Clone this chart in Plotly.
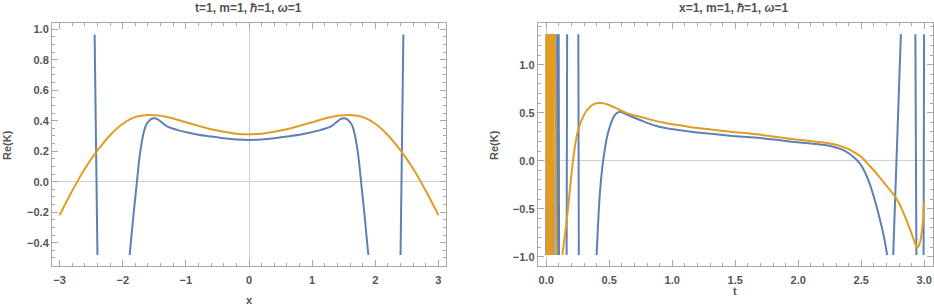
import plotly.graph_objects as go

# ---------------- data ----------------
# Left panel: Re(K) vs x  (t=1)
left_orange_x = [-3.0, -2.8, -2.6, -2.4, -2.2, -2.0, -1.8, -1.6, -1.4, -1.2, -1.0, -0.8, -0.6, -0.4, -0.2, 0.0,
                 0.2, 0.4, 0.6, 0.8, 1.0, 1.2, 1.4, 1.6, 1.8, 2.0, 2.2, 2.4, 2.6, 2.8, 3.0]
left_orange_y = [-0.22, -0.06, 0.085, 0.205, 0.305, 0.38, 0.425, 0.438, 0.432, 0.414, 0.39, 0.366, 0.344, 0.328, 0.315, 0.311,
                 0.315, 0.328, 0.344, 0.366, 0.39, 0.414, 0.432, 0.438, 0.425, 0.38, 0.305, 0.205, 0.085, -0.06, -0.22]

left_blue_x = [-2.445, -2.40, None,
               -1.89, -1.86, -1.83, -1.80, -1.77, -1.74, -1.71, -1.68, -1.65, -1.62, -1.58, -1.54, -1.50,
               -1.45, -1.40, -1.35, -1.30, -1.20, -1.10, -1.00, -0.90, -0.80, -0.60, -0.40, -0.20, 0.0,
               0.20, 0.40, 0.60, 0.80, 0.90, 1.00, 1.10, 1.20, 1.30, 1.35, 1.40, 1.45,
               1.50, 1.54, 1.58, 1.62, 1.65, 1.68, 1.71, 1.74, 1.77, 1.80, 1.83, 1.86, 1.89, None,
               2.40, 2.445]
left_blue_y = [0.965, -0.481, None,
               -0.481, -0.35, -0.22, -0.10, 0.02, 0.14, 0.23, 0.30, 0.35, 0.38, 0.40, 0.413, 0.416,
               0.41, 0.395, 0.378, 0.363, 0.347, 0.335, 0.325, 0.316, 0.308, 0.296, 0.285, 0.277, 0.274,
               0.277, 0.285, 0.296, 0.308, 0.316, 0.325, 0.335, 0.347, 0.363, 0.378, 0.395, 0.41,
               0.416, 0.413, 0.40, 0.38, 0.35, 0.30, 0.23, 0.14, 0.02, -0.10, -0.22, -0.35, -0.481, None,
               -0.481, 0.965]

# Right panel: Re(K) vs t  (x=1)
right_orange_t = [0.128, 0.15, 0.172, 0.198, 0.225, 0.25, 0.28, 0.32, 0.36, 0.40, 0.44, 0.50, 0.585, 0.65,
                  0.744, 0.85, 0.955, 1.10, 1.22, 1.458, 1.70, 2.0, 2.1, 2.2, 2.3, 2.4, 2.45, 2.5, 2.55,
                  2.6, 2.65, 2.7, 2.75, 2.8, 2.85, 2.9, 2.93, 2.945, 2.96, 2.97, 2.98, 2.99, 3.0]
right_orange_y = [-0.982, -0.76, -0.51, -0.17, 0.12, 0.30, 0.42, 0.52, 0.575, 0.598, 0.60, 0.58, 0.528, 0.49,
                  0.458, 0.42, 0.39, 0.36, 0.337, 0.302, 0.27, 0.217, 0.205, 0.19, 0.165, 0.12, 0.085, 0.04, -0.03,
                  -0.10, -0.18, -0.26, -0.34, -0.44, -0.59, -0.76, -0.87, -0.905, -0.88, -0.83, -0.756, -0.62, -0.427]

right_orange_dense_t = [0.000, 0.004, 0.008, 0.012, 0.016, 0.020, 0.024, 0.028, 0.032, 0.036, 0.040, 0.044,
                        0.048, 0.052, 0.056, None, 0.068, 0.082]
right_orange_dense_y = [1.318, -0.982, 1.318, -0.982, 1.318, -0.982, 1.318, -0.982, 1.318, -0.982, 1.318, -0.982,
                        1.318, -0.982, 1.318, None, 1.318, -0.982]

right_blue_t = [0.053, 0.056, None, 0.087, 0.089, None, 0.099, 0.102, None, 0.162, 0.166, None, 0.255, 0.259, None,
                0.40, 0.426, 0.452, 0.49, 0.545, 0.585, 0.64, 0.744, 0.85, 0.955, 1.10, 1.22, 1.458, 1.70,
                2.012, 2.1, 2.2, 2.278, 2.35, 2.41, 2.45, 2.49, 2.53, 2.57, 2.61, 2.65, 2.68, 2.706, None,
                2.754, 2.815, None, 2.930, 2.938, None, 2.995, 2.999]
right_blue_y = [1.318, -0.982, None, -0.982, 1.318, None, 1.318, -0.982, None, -0.982, 1.318, None, 1.318, -0.982, None,
                -0.982, -0.34, 0.0, 0.285, 0.476, 0.51, 0.48, 0.424, 0.37, 0.337, 0.31, 0.292, 0.26, 0.235,
                0.19, 0.18, 0.165, 0.146, 0.115, 0.07, 0.025, -0.03, -0.12, -0.25, -0.42, -0.62, -0.79, -0.982, None,
                -0.982, 1.318, None, 1.318, -0.982, None, -0.982, 1.318]

right_blue_dense_t = [0.000, 0.005, 0.010, 0.015, 0.020, 0.025, 0.030, 0.035, 0.040, 0.045, 0.050]
right_blue_dense_y = [-0.982, 1.318, -0.982, 1.318, -0.982, 1.318, -0.982, 1.318, -0.982, 1.318, -0.982]

right_blue_faint_t = [0.058, 0.061, 0.064, 0.067, 0.070, 0.073, 0.076, 0.079, 0.082, 0.085]
right_blue_faint_y = [-0.982, 1.318, -0.982, 1.318, -0.982, 1.318, -0.982, 1.318, -0.982, 1.318]

left_title = "t=1, m=1, \u210f=1, <i>\u03c9</i>=1"
right_title = "x=1, m=1, \u210f=1, <i>\u03c9</i>=1"
y_label = "Re(K)"
left_x_label = "x"
right_x_label = "t"

# ---------------- style ----------------
BLUE = "#5E81B5"
ORANGE = "#E19C24"
FRAME = "#a8a8a8"
TEXT = "#555555"
FONT = "Liberation Sans, Arial, sans-serif"

fig = go.Figure()

def add(x, y, axis, color, shape="linear", opacity=1.0, width=2):
    fig.add_trace(go.Scatter(
        x=x, y=y, mode="lines", xaxis="x" + axis, yaxis="y" + axis,
        line=dict(color=color, width=width, shape=shape, smoothing=0.8 if shape == "spline" else None),
        opacity=opacity, connectgaps=False, hoverinfo="skip", showlegend=False))

# left
add(left_blue_x, left_blue_y, "", BLUE, "spline")
add(left_orange_x, left_orange_y, "", ORANGE, "spline")
# right
add(right_blue_dense_t, right_blue_dense_y, "2", BLUE)
add(right_blue_faint_t, right_blue_faint_y, "2", BLUE, opacity=0.4, width=1)
add(right_blue_t, right_blue_y, "2", BLUE, "spline")
add(right_orange_dense_t, right_orange_dense_y, "2", ORANGE)
add(right_orange_t, right_orange_y, "2", ORANGE, "spline")

W, H = 934, 307
ML, MR, MT, MB = 0, 0, 23, 41
tickfont = dict(family=FONT, size=11, color=TEXT, weight="bold")

def xax(domain, rng, dtick, minor, fmt, anchor, zero):
    return dict(domain=domain, range=rng, anchor=anchor, dtick=dtick, tick0=0, tickformat=fmt,
                showgrid=False, zeroline=zero, zerolinecolor="#d0d0d0", zerolinewidth=1,
                showline=True, linecolor=FRAME, linewidth=1, mirror="ticks",
                ticks="inside", ticklen=6, tickcolor=FRAME, tickwidth=1, ticklabelstandoff=4,
                minor=dict(ticks="inside", ticklen=3, dtick=minor, tickcolor=FRAME, tickwidth=1, showgrid=False),
                tickfont=tickfont, fixedrange=True)

def yax(rng, dtick, minor, fmt, anchor):
    return dict(domain=[0, 1], range=rng, anchor=anchor, dtick=dtick, tick0=0, tickformat=fmt,
                showgrid=False, zeroline=True, zerolinecolor="#d0d0d0", zerolinewidth=1,
                showline=True, linecolor=FRAME, linewidth=1, mirror="ticks",
                ticks="inside", ticklen=6, tickcolor=FRAME, tickwidth=1,
                minor=dict(ticks="inside", ticklen=3, dtick=minor, tickcolor=FRAME, tickwidth=1, showgrid=False),
                tickfont=tickfont, fixedrange=True)

l_dom = [52 / W, 446 / W]
r_dom = [537.7 / W, 932.7 / W]

fig.update_layout(
    width=W, height=H,
    margin=dict(l=ML, r=MR, t=MT, b=MB),
    paper_bgcolor="white", plot_bgcolor="white",
    xaxis=xax(l_dom, [-3.12, 3.12], 1, 0.2, "d", "y", True),
    yaxis=yax([-0.553, 1.041], 0.2, 0.05, ".1f", "x"),
    xaxis2=xax(r_dom, [-0.0675, 3.0675], 0.5, 0.1, ".1f", "y2", True),
    yaxis2=yax([-1.097, 1.434], 0.5, 0.1, ".1f", "x2"),
)

ph = H - MT - MB
def py(pix):
    return (H - MB - pix) / ph

labfont = dict(family=FONT, size=11, color=TEXT, weight="bold")
titlefont = dict(family=FONT, size=12, color=TEXT, weight="bold")
ann = [
    dict(text=left_title, x=248 / W, y=py(7.5), xref="paper", yref="paper", showarrow=False, font=titlefont,
         xanchor="center", yanchor="middle"),
    dict(text=right_title, x=733 / W, y=py(7.5), xref="paper", yref="paper", showarrow=False, font=titlefont,
         xanchor="center", yanchor="middle"),
    dict(text=y_label, x=7 / W, y=py(145), xref="paper", yref="paper", showarrow=False, font=labfont,
         textangle=-90, xanchor="center", yanchor="middle"),
    dict(text=y_label, x=494 / W, y=py(145), xref="paper", yref="paper", showarrow=False, font=labfont,
         textangle=-90, xanchor="center", yanchor="middle"),
    dict(text=left_x_label, x=249 / W, y=py(300), xref="paper", yref="paper", showarrow=False, font=labfont,
         xanchor="center", yanchor="middle"),
    dict(text=right_x_label, x=735 / W, y=py(291), xref="paper", yref="paper", showarrow=False, font=labfont,
         xanchor="center", yanchor="middle"),
]
fig.update_layout(annotations=ann)

fig.write_html("out.html", config={"displayModeBar": False, "staticPlot": True},
               post_script="document.body.style.margin='0';document.body.style.overflow='hidden';")
